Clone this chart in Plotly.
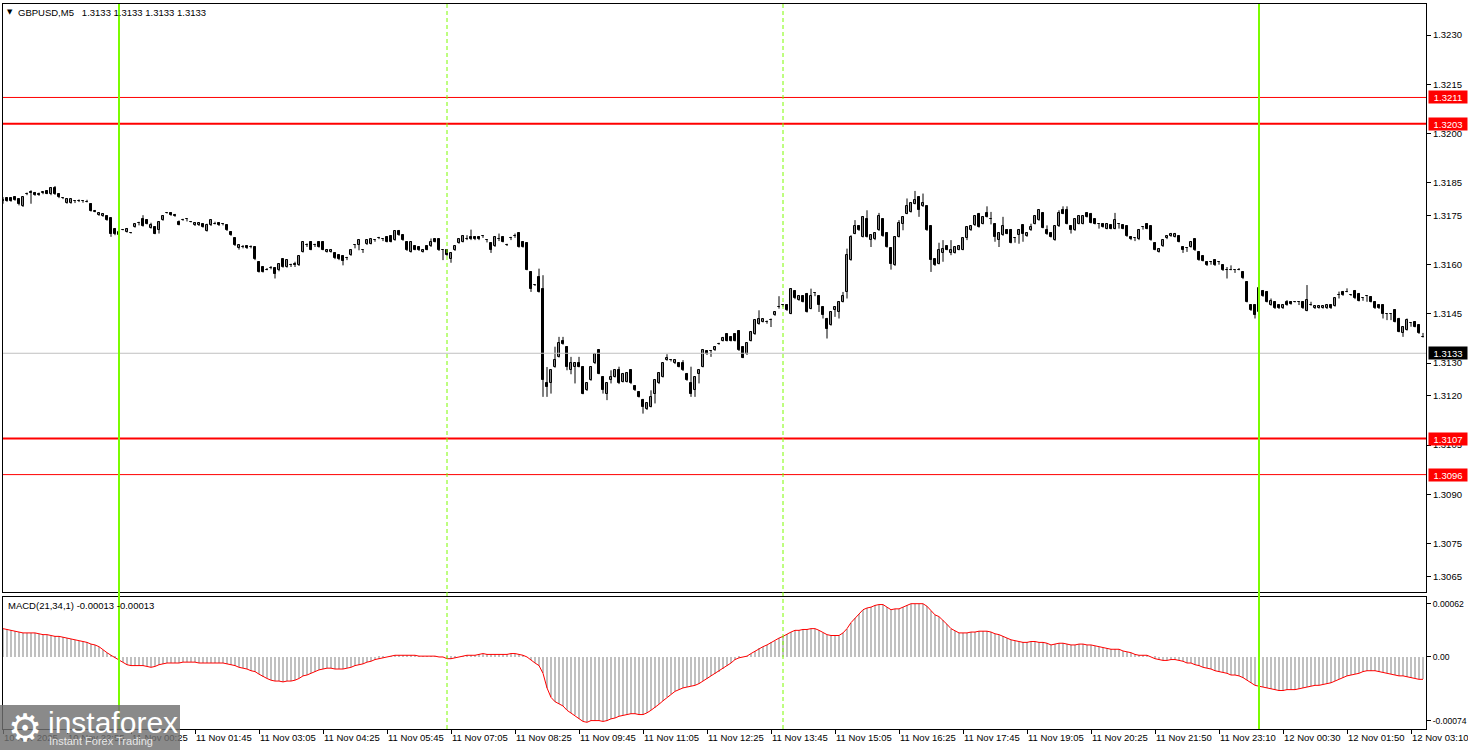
import plotly.graph_objects as go

# ---------------- data ----------------
opens = [
 1.31797,1.31802,1.31802,1.31805,1.31799,1.31778,1.31815,1.31822,1.31819,1.31817,
 1.31820,1.31825,1.31815,1.31835,1.31815,1.31802,1.31788,1.31788,1.31795,1.31793,
 1.31795,1.31792,1.31786,1.31762,1.31751,1.31748,1.31748,1.31741,1.31710,1.31690,
 1.31707,1.31700,1.31697,1.31715,1.31728,1.31738,1.31736,1.31713,1.31715,1.31707,
 1.31736,1.31758,1.31758,1.31753,1.31731,1.31736,1.31738,1.31731,1.31720,1.31720,
 1.31723,1.31703,1.31720,1.31725,1.31728,1.31725,1.31720,1.31700,1.31680,1.31650,
 1.31654,1.31656,1.31654,1.31654,1.31609,1.31593,1.31585,1.31591,1.31591,1.31583,
 1.31616,1.31593,1.31598,1.31603,1.31598,1.31639,1.31659,1.31670,1.31659,1.31670,
 1.31670,1.31639,1.31639,1.31636,1.31629,1.31626,1.31619,1.31629,1.31659,1.31659,
 1.31644,1.31662,1.31664,1.31675,1.31680,1.31677,1.31685,1.31687,1.31675,1.31703,
 1.31690,1.31670,1.31639,1.31656,1.31654,1.31639,1.31656,1.31656,1.31677,1.31677,
 1.31644,1.31646,1.31616,1.31644,1.31666,1.31670,1.31677,1.31685,1.31685,1.31685,
 1.31687,1.31675,1.31666,1.31656,1.31677,1.31685,1.31659,1.31680,1.31687,1.31697,
 1.31670,1.31666,1.31578,1.31537,1.31563,1.31527,1.31238,1.31238,1.31288,1.31319,
 1.31368,1.31350,1.31278,1.31289,1.31299,1.31289,1.31217,1.31248,1.31299,1.31339,
 1.31258,1.31207,1.31248,1.31258,1.31278,1.31243,1.31243,1.31278,1.31230,1.31212,
 1.31189,1.31159,1.31167,1.31207,1.31238,1.31258,1.31309,1.31309,1.31299,1.31299,
 1.31299,1.31268,1.31238,1.31217,1.31268,1.31289,1.31337,1.31337,1.31339,1.31358,
 1.31368,1.31388,1.31380,1.31388,1.31398,1.31350,1.31327,1.31368,1.31388,1.31419,
 1.31426,1.31426,1.31431,1.31446,1.31471,1.31477,1.31477,1.31451,1.31520,1.31492,
 1.31504,1.31512,1.31466,1.31514,1.31504,1.31471,1.31436,1.31416,1.31461,1.31456,
 1.31487,1.31517,1.31614,1.31695,1.31717,1.31685,1.31738,1.31675,1.31677,1.31705,
 1.31738,1.31697,1.31652,1.31598,1.31685,1.31725,1.31756,1.31761,1.31786,1.31807,
 1.31778,1.31778,1.31717,1.31616,1.31603,1.31636,1.31656,1.31636,1.31636,1.31646,
 1.31646,1.31680,1.31705,1.31720,1.31756,1.31725,1.31758,1.31738,1.31725,1.31675,
 1.31690,1.31707,1.31707,1.31680,1.31690,1.31720,1.31687,1.31705,1.31725,1.31736,
 1.31758,1.31707,1.31697,1.31675,1.31717,1.31768,1.31768,1.31717,1.31705,1.31725,
 1.31725,1.31758,1.31756,1.31738,1.31725,1.31725,1.31710,1.31720,1.31710,1.31725,
 1.31720,1.31717,1.31685,1.31680,1.31677,1.31715,1.31725,1.31717,1.31667,1.31639,
 1.31656,1.31680,1.31687,1.31685,1.31687,1.31654,1.31652,1.31654,1.31677,1.31639,
 1.31626,1.31609,1.31609,1.31614,1.31609,1.31598,1.31583,1.31585,1.31583,1.31585,
 1.31578,1.31548,1.31477,1.31477,1.31457,1.31521,1.31518,1.31477,1.31487,1.31477,
 1.31467,1.31487,1.31487,1.31487,1.31487,1.31487,1.31460,1.31477,1.31467,1.31468,
 1.31468,1.31467,1.31477,1.31474,1.31507,1.31518,1.31518,1.31507,1.31521,1.31512,
 1.31497,1.31504,1.31502,1.31487,1.31477,1.31477,1.31449,1.31449,1.31462,1.31436,
 1.31391,1.31401,1.31421,1.31426,1.31416,1.31380]

closes = [
 1.31795,1.31795,1.31795,1.31797,1.31786,1.31805,1.31817,1.31820,1.31812,1.31812,
 1.31822,1.31817,1.31835,1.31815,1.31805,1.31802,1.31800,1.31800,1.31795,1.31793,
 1.31795,1.31792,1.31764,1.31762,1.31758,1.31756,1.31736,1.31695,1.31695,1.31700,
 1.31707,1.31710,1.31697,1.31723,1.31728,1.31718,1.31725,1.31720,1.31695,1.31731,
 1.31749,1.31758,1.31751,1.31748,1.31722,1.31736,1.31738,1.31731,1.31728,1.31728,
 1.31715,1.31720,1.31736,1.31725,1.31720,1.31725,1.31705,1.31690,1.31659,1.31659,
 1.31654,1.31650,1.31654,1.31616,1.31578,1.31578,1.31585,1.31591,1.31573,1.31603,
 1.31593,1.31614,1.31598,1.31598,1.31626,1.31670,1.31659,1.31646,1.31659,1.31654,
 1.31646,1.31646,1.31646,1.31619,1.31616,1.31612,1.31619,1.31644,1.31659,1.31675,
 1.31644,1.31675,1.31677,1.31675,1.31680,1.31677,1.31670,1.31670,1.31703,1.31690,
 1.31675,1.31644,1.31670,1.31646,1.31644,1.31646,1.31646,1.31670,1.31670,1.31644,
 1.31644,1.31629,1.31636,1.31656,1.31677,1.31687,1.31677,1.31677,1.31677,1.31677,
 1.31687,1.31675,1.31644,1.31685,1.31677,1.31670,1.31659,1.31680,1.31687,1.31654,
 1.31654,1.31585,1.31527,1.31537,1.31517,1.31248,1.31228,1.31278,1.31309,1.31360,
 1.31358,1.31289,1.31299,1.31301,1.31289,1.31207,1.31238,1.31289,1.31327,1.31268,
 1.31217,1.31238,1.31258,1.31278,1.31238,1.31268,1.31270,1.31238,1.31217,1.31197,
 1.31167,1.31177,1.31197,1.31248,1.31270,1.31299,1.31317,1.31309,1.31309,1.31289,
 1.31278,1.31248,1.31207,1.31258,1.31278,1.31339,1.31327,1.31337,1.31350,1.31358,
 1.31378,1.31368,1.31368,1.31368,1.31339,1.31317,1.31360,1.31395,1.31431,1.31436,
 1.31433,1.31426,1.31431,1.31456,1.31471,1.31477,1.31461,1.31527,1.31497,1.31504,
 1.31487,1.31456,1.31504,1.31514,1.31477,1.31446,1.31405,1.31456,1.31471,1.31487,
 1.31504,1.31629,1.31685,1.31717,1.31705,1.31746,1.31685,1.31690,1.31697,1.31748,
 1.31687,1.31654,1.31603,1.31685,1.31728,1.31746,1.31778,1.31788,1.31797,1.31766,
 1.31788,1.31705,1.31614,1.31598,1.31644,1.31649,1.31646,1.31646,1.31654,1.31656,
 1.31680,1.31715,1.31717,1.31748,1.31715,1.31746,1.31746,1.31738,1.31685,1.31697,
 1.31717,1.31695,1.31667,1.31680,1.31707,1.31695,1.31697,1.31715,1.31748,1.31766,
 1.31713,1.31693,1.31685,1.31717,1.31758,1.31756,1.31725,1.31705,1.31738,1.31748,
 1.31748,1.31746,1.31728,1.31725,1.31725,1.31715,1.31725,1.31710,1.31736,1.31725,
 1.31710,1.31687,1.31677,1.31680,1.31707,1.31715,1.31710,1.31675,1.31646,1.31649,
 1.31675,1.31687,1.31695,1.31695,1.31670,1.31644,1.31652,1.31670,1.31644,1.31614,
 1.31612,1.31598,1.31609,1.31598,1.31609,1.31583,1.31583,1.31585,1.31583,1.31585,
 1.31558,1.31487,1.31461,1.31446,1.31528,1.31504,1.31487,1.31490,1.31467,1.31467,
 1.31477,1.31477,1.31480,1.31487,1.31487,1.31467,1.31492,1.31477,1.31474,1.31474,
 1.31474,1.31477,1.31467,1.31497,1.31507,1.31507,1.31518,1.31507,1.31497,1.31490,
 1.31497,1.31504,1.31487,1.31467,1.31467,1.31449,1.31449,1.31449,1.31426,1.31396,
 1.31411,1.31431,1.31421,1.31411,1.31391,1.31380]

highs = [
 1.31806,1.31805,1.31805,1.31808,1.31801,1.31807,1.31820,1.31827,1.31822,1.31820,
 1.31823,1.31827,1.31837,1.31840,1.31817,1.31806,1.31802,1.31801,1.31797,1.31799,
 1.31797,1.31798,1.31788,1.31767,1.31760,1.31757,1.31750,1.31743,1.31712,1.31702,
 1.31709,1.31712,1.31699,1.31725,1.31731,1.31751,1.31738,1.31728,1.31717,1.31733,
 1.31751,1.31760,1.31760,1.31755,1.31735,1.31740,1.31740,1.31733,1.31730,1.31730,
 1.31725,1.31725,1.31738,1.31731,1.31730,1.31727,1.31722,1.31702,1.31682,1.31662,
 1.31660,1.31658,1.31659,1.31656,1.31611,1.31595,1.31590,1.31596,1.31593,1.31605,
 1.31618,1.31616,1.31603,1.31609,1.31628,1.31672,1.31665,1.31672,1.31664,1.31672,
 1.31672,1.31648,1.31648,1.31638,1.31631,1.31628,1.31624,1.31646,1.31661,1.31677,
 1.31646,1.31677,1.31679,1.31677,1.31685,1.31680,1.31687,1.31689,1.31705,1.31706,
 1.31692,1.31672,1.31672,1.31658,1.31656,1.31648,1.31658,1.31680,1.31679,1.31679,
 1.31646,1.31648,1.31638,1.31658,1.31679,1.31690,1.31690,1.31707,1.31687,1.31687,
 1.31690,1.31677,1.31668,1.31687,1.31695,1.31687,1.31664,1.31685,1.31695,1.31699,
 1.31672,1.31668,1.31580,1.31540,1.31588,1.31568,1.31288,1.31280,1.31350,1.31380,
 1.31380,1.31352,1.31319,1.31303,1.31319,1.31291,1.31240,1.31291,1.31329,1.31341,
 1.31260,1.31240,1.31278,1.31280,1.31289,1.31270,1.31272,1.31280,1.31232,1.31214,
 1.31191,1.31179,1.31217,1.31250,1.31272,1.31301,1.31327,1.31312,1.31311,1.31301,
 1.31309,1.31270,1.31289,1.31260,1.31280,1.31341,1.31339,1.31340,1.31352,1.31362,
 1.31380,1.31390,1.31382,1.31390,1.31400,1.31352,1.31362,1.31397,1.31433,1.31461,
 1.31435,1.31430,1.31436,1.31458,1.31504,1.31480,1.31479,1.31529,1.31522,1.31506,
 1.31507,1.31514,1.31527,1.31516,1.31506,1.31473,1.31438,1.31458,1.31473,1.31489,
 1.31517,1.31649,1.31690,1.31736,1.31719,1.31748,1.31766,1.31692,1.31699,1.31758,
 1.31740,1.31699,1.31654,1.31687,1.31736,1.31748,1.31802,1.31790,1.31825,1.31809,
 1.31817,1.31780,1.31719,1.31618,1.31667,1.31675,1.31658,1.31675,1.31656,1.31658,
 1.31682,1.31717,1.31719,1.31750,1.31758,1.31748,1.31778,1.31761,1.31727,1.31699,
 1.31746,1.31709,1.31709,1.31683,1.31709,1.31722,1.31699,1.31725,1.31750,1.31768,
 1.31760,1.31720,1.31699,1.31719,1.31766,1.31778,1.31778,1.31719,1.31740,1.31750,
 1.31750,1.31760,1.31758,1.31740,1.31727,1.31727,1.31727,1.31722,1.31758,1.31727,
 1.31722,1.31719,1.31687,1.31682,1.31709,1.31717,1.31727,1.31719,1.31669,1.31651,
 1.31677,1.31689,1.31697,1.31697,1.31689,1.31656,1.31654,1.31672,1.31679,1.31641,
 1.31628,1.31611,1.31611,1.31616,1.31611,1.31600,1.31593,1.31598,1.31585,1.31590,
 1.31580,1.31550,1.31479,1.31479,1.31530,1.31523,1.31520,1.31497,1.31489,1.31479,
 1.31479,1.31492,1.31489,1.31489,1.31489,1.31489,1.31538,1.31487,1.31476,1.31476,
 1.31476,1.31479,1.31479,1.31499,1.31518,1.31520,1.31528,1.31509,1.31523,1.31514,
 1.31499,1.31506,1.31504,1.31489,1.31479,1.31479,1.31451,1.31451,1.31464,1.31438,
 1.31413,1.31436,1.31423,1.31428,1.31418,1.31392]

lows = [
 1.31786,1.31792,1.31792,1.31795,1.31781,1.31776,1.31812,1.31786,1.31810,1.31810,
 1.31815,1.31815,1.31812,1.31813,1.31803,1.31800,1.31786,1.31786,1.31788,1.31791,
 1.31789,1.31790,1.31762,1.31760,1.31749,1.31746,1.31734,1.31685,1.31690,1.31687,
 1.31705,1.31698,1.31695,1.31713,1.31720,1.31716,1.31723,1.31710,1.31693,1.31695,
 1.31734,1.31756,1.31749,1.31746,1.31720,1.31734,1.31732,1.31729,1.31718,1.31718,
 1.31713,1.31701,1.31718,1.31723,1.31718,1.31720,1.31703,1.31688,1.31657,1.31646,
 1.31650,1.31648,1.31650,1.31614,1.31576,1.31576,1.31583,1.31586,1.31558,1.31580,
 1.31591,1.31591,1.31593,1.31593,1.31596,1.31637,1.31654,1.31644,1.31654,1.31652,
 1.31644,1.31637,1.31637,1.31617,1.31614,1.31598,1.31614,1.31627,1.31650,1.31644,
 1.31636,1.31660,1.31662,1.31670,1.31678,1.31672,1.31668,1.31668,1.31673,1.31688,
 1.31673,1.31642,1.31637,1.31644,1.31642,1.31637,1.31644,1.31654,1.31668,1.31642,
 1.31614,1.31627,1.31606,1.31642,1.31664,1.31668,1.31675,1.31675,1.31675,1.31675,
 1.31682,1.31668,1.31636,1.31654,1.31672,1.31668,1.31657,1.31675,1.31682,1.31652,
 1.31652,1.31583,1.31517,1.31535,1.31515,1.31197,1.31197,1.31207,1.31286,1.31317,
 1.31356,1.31278,1.31266,1.31238,1.31287,1.31205,1.31215,1.31246,1.31297,1.31266,
 1.31207,1.31187,1.31238,1.31256,1.31236,1.31241,1.31241,1.31236,1.31215,1.31195,
 1.31146,1.31157,1.31165,1.31177,1.31236,1.31256,1.31307,1.31305,1.31297,1.31287,
 1.31276,1.31246,1.31197,1.31197,1.31238,1.31287,1.31325,1.31319,1.31337,1.31356,
 1.31366,1.31366,1.31366,1.31366,1.31337,1.31315,1.31325,1.31366,1.31386,1.31417,
 1.31424,1.31420,1.31410,1.31444,1.31466,1.31472,1.31459,1.31449,1.31495,1.31490,
 1.31485,1.31454,1.31464,1.31504,1.31456,1.31436,1.31375,1.31414,1.31441,1.31436,
 1.31485,1.31497,1.31612,1.31693,1.31703,1.31683,1.31683,1.31654,1.31675,1.31703,
 1.31685,1.31652,1.31585,1.31596,1.31683,1.31705,1.31754,1.31759,1.31784,1.31746,
 1.31776,1.31703,1.31578,1.31596,1.31601,1.31609,1.31644,1.31629,1.31634,1.31644,
 1.31644,1.31675,1.31703,1.31718,1.31713,1.31723,1.31744,1.31723,1.31670,1.31654,
 1.31688,1.31693,1.31665,1.31667,1.31664,1.31670,1.31685,1.31703,1.31723,1.31734,
 1.31711,1.31691,1.31683,1.31673,1.31715,1.31754,1.31723,1.31695,1.31703,1.31723,
 1.31723,1.31744,1.31726,1.31723,1.31710,1.31713,1.31708,1.31708,1.31708,1.31710,
 1.31708,1.31685,1.31675,1.31672,1.31675,1.31707,1.31708,1.31673,1.31644,1.31637,
 1.31654,1.31678,1.31685,1.31683,1.31668,1.31636,1.31639,1.31652,1.31642,1.31612,
 1.31610,1.31596,1.31600,1.31596,1.31600,1.31581,1.31558,1.31583,1.31575,1.31583,
 1.31556,1.31485,1.31459,1.31436,1.31450,1.31502,1.31485,1.31475,1.31465,1.31465,
 1.31465,1.31475,1.31478,1.31485,1.31477,1.31465,1.31458,1.31475,1.31465,1.31466,
 1.31466,1.31465,1.31465,1.31472,1.31497,1.31505,1.31516,1.31505,1.31495,1.31488,
 1.31490,1.31487,1.31485,1.31465,1.31465,1.31436,1.31431,1.31431,1.31424,1.31394,
 1.31380,1.31399,1.31411,1.31409,1.31389,1.31378]

macd_values = [
 0.00033,0.00032,0.00031,0.00030,0.00029,0.00028,0.00028,0.00028,0.00028,0.00027,
 0.00026,0.00026,0.00025,0.00024,0.00024,0.00023,0.00022,0.00021,0.00020,0.00019,
 0.00018,0.00017,0.00015,0.00014,0.00012,0.00008,0.00005,0.00002,-0.00001,-0.00003,
 -0.00006,-0.00009,-0.00010,-0.00010,-0.00010,-0.00010,-0.00011,-0.00012,-0.00011,-0.00009,
 -0.00008,-0.00007,-0.00007,-0.00007,-0.00007,-0.00006,-0.00006,-0.00006,-0.00006,-0.00007,
 -0.00007,-0.00007,-0.00007,-0.00007,-0.00007,-0.00007,-0.00008,-0.00009,-0.00010,-0.00012,
 -0.00013,-0.00014,-0.00016,-0.00017,-0.00020,-0.00023,-0.00025,-0.00027,-0.00028,-0.00028,
 -0.00029,-0.00028,-0.00028,-0.00027,-0.00025,-0.00022,-0.00021,-0.00019,-0.00017,-0.00015,
 -0.00014,-0.00013,-0.00013,-0.00014,-0.00014,-0.00014,-0.00013,-0.00012,-0.00010,-0.00009,
 -0.00008,-0.00006,-0.00005,-0.00003,-0.00002,-0.00001,0.00000,0.00001,0.00002,0.00002,
 0.00002,0.00002,0.00002,0.00002,0.00001,0.00001,0.00001,0.00001,0.00001,0.00000,
 0.00000,-0.00002,-0.00002,-0.00001,0.00000,0.00001,0.00002,0.00002,0.00002,0.00003,
 0.00004,0.00003,0.00003,0.00003,0.00003,0.00003,0.00003,0.00004,0.00004,0.00003,
 0.00002,0.00000,-0.00004,-0.00007,-0.00010,-0.00019,-0.00036,-0.00047,-0.00052,-0.00055,
 -0.00057,-0.00062,-0.00065,-0.00068,-0.00072,-0.00075,-0.00076,-0.00074,-0.00074,-0.00074,
 -0.00075,-0.00074,-0.00072,-0.00071,-0.00069,-0.00068,-0.00067,-0.00066,-0.00066,-0.00067,
 -0.00067,-0.00065,-0.00062,-0.00059,-0.00055,-0.00051,-0.00047,-0.00043,-0.00040,-0.00038,
 -0.00036,-0.00035,-0.00034,-0.00033,-0.00031,-0.00028,-0.00026,-0.00022,-0.00020,-0.00017,
 -0.00014,-0.00011,-0.00007,-0.00003,-0.00001,0.00000,0.00001,0.00004,0.00007,0.00010,
 0.00012,0.00014,0.00017,0.00019,0.00022,0.00024,0.00027,0.00029,0.00031,0.00031,
 0.00032,0.00032,0.00033,0.00033,0.00031,0.00028,0.00026,0.00025,0.00025,0.00025,
 0.00028,0.00033,0.00040,0.00045,0.00050,0.00055,0.00057,0.00058,0.00060,0.00061,
 0.00061,0.00058,0.00055,0.00056,0.00056,0.00058,0.00060,0.00062,0.00062,0.00062,
 0.00062,0.00059,0.00054,0.00049,0.00047,0.00043,0.00038,0.00033,0.00030,0.00028,
 0.00028,0.00028,0.00029,0.00029,0.00030,0.00030,0.00030,0.00029,0.00027,0.00026,
 0.00024,0.00022,0.00020,0.00019,0.00018,0.00017,0.00017,0.00018,0.00018,0.00017,
 0.00017,0.00016,0.00014,0.00015,0.00016,0.00016,0.00015,0.00014,0.00014,0.00015,
 0.00015,0.00014,0.00014,0.00013,0.00012,0.00011,0.00010,0.00009,0.00009,0.00009,
 0.00007,0.00006,0.00005,0.00003,0.00002,0.00002,0.00002,0.00000,-0.00002,-0.00003,
 -0.00004,-0.00004,-0.00003,-0.00003,-0.00004,-0.00005,-0.00007,-0.00007,-0.00009,-0.00010,
 -0.00012,-0.00013,-0.00014,-0.00016,-0.00017,-0.00018,-0.00019,-0.00021,-0.00021,-0.00022,
 -0.00024,-0.00027,-0.00030,-0.00033,-0.00034,-0.00035,-0.00036,-0.00037,-0.00038,-0.00039,
 -0.00039,-0.00038,-0.00038,-0.00038,-0.00037,-0.00036,-0.00035,-0.00034,-0.00033,-0.00033,
 -0.00032,-0.00031,-0.00030,-0.00028,-0.00026,-0.00024,-0.00022,-0.00021,-0.00020,-0.00019,
 -0.00017,-0.00016,-0.00016,-0.00016,-0.00017,-0.00018,-0.00019,-0.00020,-0.00021,-0.00022,
 -0.00022,-0.00023,-0.00024,-0.00025,-0.00026,-0.00026]

tick_bars = [0, 16, 32, 48, 64, 80, 96, 112, 128, 144, 160, 176, 192, 208, 224,
             240, 256, 272, 288, 304, 320, 336, 352]
tick_labels = ["10 Nov 2025", "10 Nov 22:55", "11 Nov 00:25", "11 Nov 01:45",
               "11 Nov 03:05", "11 Nov 04:25", "11 Nov 05:45", "11 Nov 07:05",
               "11 Nov 08:25", "11 Nov 09:45", "11 Nov 11:05", "11 Nov 12:25",
               "11 Nov 13:45", "11 Nov 15:05", "11 Nov 16:25", "11 Nov 17:45",
               "11 Nov 19:05", "11 Nov 20:25", "11 Nov 21:50", "11 Nov 23:10",
               "12 Nov 00:30", "12 Nov 01:50", "12 Nov 03:10"]

price_ticks = [1.3230, 1.3215, 1.3200, 1.3185, 1.3175, 1.3160, 1.3145,
               1.3130, 1.3120, 1.3105, 1.3090, 1.3075, 1.3065]
macd_ticks = [0.00062, 0.0, -0.00074]
macd_tick_text = ["0.00062", "0.00", "-0.00074"]

levels = [1.3211, 1.3203, 1.3107, 1.3096]
current_price = 1.3133
solid_marker_bars = [29, 314]
dashed_marker_bars = [111, 195]

# ---------------- styles ----------------
FONT = "Liberation Sans"
level_widths = [1, 2, 2, 1]
GREEN = "#7CFC00"

n = min(len(opens), len(highs), len(lows), len(closes))
idx = list(range(n))

wick_x, wick_y = [], []
for i in idx:
    wick_x += [i, i, None]
    wick_y += [lows[i], highs[i], None]

up_x, up_b, up_h, dn_x, dn_b, dn_h = [], [], [], [], [], []
for i in idx:
    o, c = opens[i], closes[i]
    lo = min(o, c)
    hgt = max(abs(c - o), 0.000003)
    if c >= o:
        up_x.append(i); up_b.append(lo); up_h.append(hgt)
    else:
        dn_x.append(i); dn_b.append(lo); dn_h.append(hgt)

fig = go.Figure()
fig.add_trace(go.Scatter(x=wick_x, y=wick_y, mode="lines",
                         line=dict(color="black", width=1),
                         hoverinfo="skip", xaxis="x", yaxis="y"))
fig.add_trace(go.Bar(x=up_x, y=up_h, base=up_b, width=0.5,
                     marker=dict(color="white", line=dict(color="black", width=1)),
                     hoverinfo="skip", xaxis="x", yaxis="y"))
fig.add_trace(go.Bar(x=dn_x, y=dn_h, base=dn_b, width=0.5,
                     marker=dict(color="black", line=dict(color="black", width=1)),
                     hoverinfo="skip", xaxis="x", yaxis="y"))

m = len(macd_values)
fig.add_trace(go.Bar(x=list(range(m)), y=macd_values, width=0.55,
                     marker=dict(color="#C0C0C0", line=dict(width=0)),
                     hoverinfo="skip", xaxis="x2", yaxis="y2"))
fig.add_trace(go.Scatter(x=list(range(m)), y=macd_values, mode="lines",
                         line=dict(color="#FF0000", width=1),
                         hoverinfo="skip", xaxis="x2", yaxis="y2"))

# geometry: plot area x 3..1426, y 4..729 of the 1468x750 page
W, H = 1468, 750
L, R, T, B = 3, 42, 4, 21
pw, ph = W - L - R, H - T - B
def px(xp):
    return (xp - L) / pw
def py(yp):
    return (H - B - yp) / ph

main_dom = [py(592), 1.0]
macd_dom = [0.0, py(597)]
x_range = [0, pw / 4.0]

tfont = dict(family=FONT, size=9.5, color="black")
mfont = dict(family=FONT, size=8.6, color="black")

fig.update_layout(
    width=W, height=H, margin=dict(l=L, r=R, t=T, b=B, autoexpand=False),
    paper_bgcolor="white", plot_bgcolor="white",
    showlegend=False, barmode="overlay", bargap=0,
    xaxis=dict(domain=[0, 1], anchor="y", range=x_range, showline=True,
               mirror=True, linecolor="black", linewidth=1, showgrid=False,
               zeroline=False, showticklabels=False, ticks="", automargin=False),
    yaxis=dict(domain=main_dom, anchor="x", range=[1.30602, 1.32395],
               side="right", tickvals=price_ticks,
               ticktext=[f"{v:.4f}" for v in price_ticks], ticks="outside",
               ticklen=4, tickcolor="black", showline=True, mirror=True,
               linecolor="black", linewidth=1, showgrid=False, zeroline=False,
               tickfont=tfont, automargin=False),
    xaxis2=dict(domain=[0, 1], anchor="y2", matches="x", range=x_range,
                showline=True, mirror=True, linecolor="black", linewidth=1,
                showgrid=False, zeroline=False, tickvals=tick_bars,
                ticktext=tick_labels, ticks="outside", ticklen=4,
                tickcolor="black", ticklabelposition="outside right",
                ticklabeloverflow="allow",
                tickangle=0, tickfont=tfont, automargin=False),
    yaxis2=dict(domain=macd_dom, anchor="x2", range=[-0.000838, 0.000698],
                side="right", tickvals=macd_ticks, ticktext=macd_tick_text,
                ticks="outside", ticklen=4, tickcolor="black", showline=True,
                mirror=True, linecolor="black", linewidth=1, showgrid=False,
                zeroline=False, tickfont=mfont, automargin=False,
                ticklabeloverflow="allow"),
)

shapes = []
shapes.append(dict(type="line", xref="x domain", x0=0, x1=1, yref="y",
                   y0=current_price, y1=current_price,
                   line=dict(color="#C0C0C0", width=1), layer="above"))
for lv, lw in zip(levels, level_widths):
    shapes.append(dict(type="line", xref="x domain", x0=0, x1=1, yref="y",
                       y0=lv, y1=lv, line=dict(color="#FF0000", width=lw),
                       layer="above"))
for b in dashed_marker_bars:
    shapes.append(dict(type="line", xref="x", x0=b, x1=b, yref="paper",
                       y0=0, y1=1, line=dict(color=GREEN, width=1, dash="4px,3px"),
                       layer="above"))
for b in solid_marker_bars:
    shapes.append(dict(type="line", xref="x", x0=b, x1=b, yref="paper",
                       y0=0, y1=1, line=dict(color=GREEN, width=2),
                       layer="above"))
# watermark box (bottom-left)
shapes.append(dict(type="rect", xref="paper", yref="paper",
                   x0=px(0), x1=px(180), y0=py(750), y1=py(705),
                   fillcolor="rgba(112,112,112,0.82)", line=dict(width=0),
                   layer="above"))
fig.update_layout(shapes=shapes)

ann = []
# top-left symbol caption
ann.append(dict(xref="paper", yref="paper", x=px(10), y=1, xanchor="center",
                yanchor="top", yshift=-2, text="▼", showarrow=False,
                font=dict(family="DejaVu Sans", size=7, color="black")))
ann.append(dict(xref="paper", yref="paper", x=px(16), y=1, xanchor="left",
                yanchor="top", yshift=-1,
                text="GBPUSD,M5\u00a0\u00a0 1.3133 1.3133 1.3133 1.3133",
                showarrow=False, font=dict(family=FONT, size=9.5, color="black")))
ann.append(dict(xref="paper", yref="paper", x=px(6), y=py(597), xanchor="left",
                yanchor="top", yshift=-1,
                text="MACD(21,34,1) -0.00013 -0.00013",
                showarrow=False, font=dict(family=FONT, size=9.5, color="black")))
# price-level tags on the right scale
for lv in levels:
    ann.append(dict(xref="paper", yref="y", x=1, y=lv, xanchor="left",
                    yanchor="middle", xshift=2, text=f"{lv:.4f}", showarrow=False,
                    bgcolor="#FF0000", borderpad=1, width=36, height=10,
                    font=dict(family=FONT, size=9.5, color="white")))
ann.append(dict(xref="paper", yref="y", x=1, y=current_price, xanchor="left",
                yanchor="middle", xshift=2, text=f"{current_price:.4f}",
                showarrow=False, bgcolor="black", borderpad=1, width=36,
                height=10, font=dict(family=FONT, size=9.5, color="white")))
# watermark texts
ann.append(dict(xref="paper", yref="paper", x=px(25), y=py(728), xanchor="center",
                yanchor="middle", text="⚙", showarrow=False,
                font=dict(family="DejaVu Sans", size=38, color="white")))
ann.append(dict(xref="paper", yref="paper", x=px(46), y=py(722), xanchor="left",
                yanchor="middle", text="instaforex", showarrow=False,
                font=dict(family=FONT, size=30, color="white")))
ann.append(dict(xref="paper", yref="paper", x=px(47), y=py(741), xanchor="left",
                yanchor="middle", text="Instant Forex Trading", showarrow=False,
                font=dict(family=FONT, size=11, color="#e6e6e6")))
fig.update_layout(annotations=ann)

fig.write_html("out.html", config={"displayModeBar": False},
               post_script="document.body.style.margin='0px';"
                           "document.body.style.overflow='hidden';")
